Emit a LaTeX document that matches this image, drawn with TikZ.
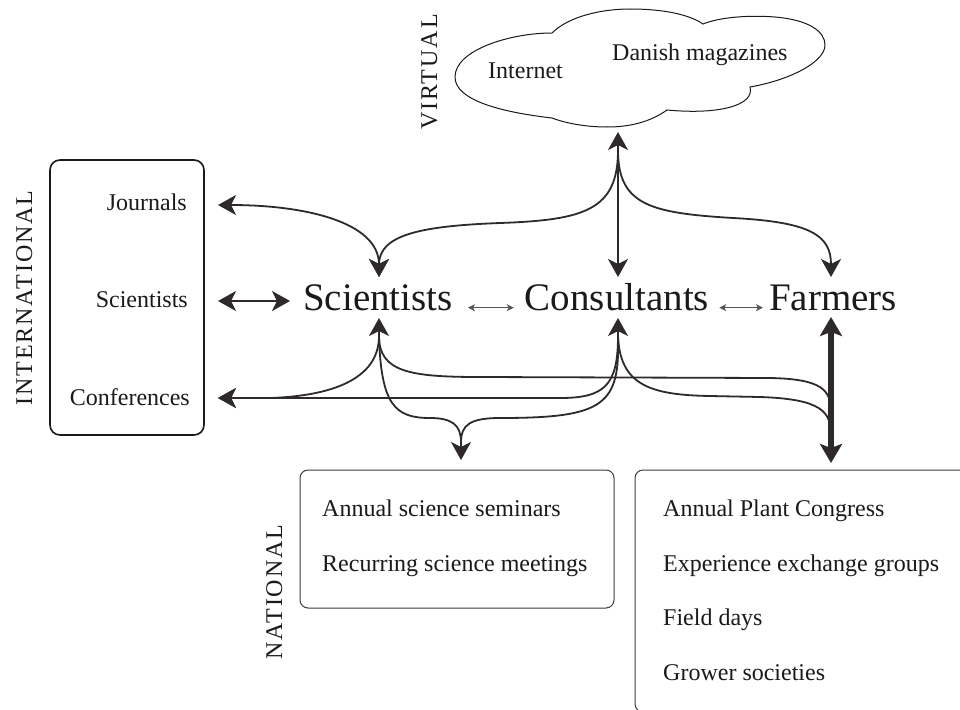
\documentclass[tikz,border=0pt]{standalone}
\usepackage{fontspec}
\setmainfont{Liberation Serif}
\usetikzlibrary{arrows.meta}
\definecolor{lc}{HTML}{2E2A2B}
\definecolor{bc}{HTML}{3C3C3C}
\definecolor{tc}{HTML}{1A1A1A}
\definecolor{thin}{HTML}{555555}
\begin{document}
\begin{tikzpicture}[x=1pt,y=-1pt,
  >={Stealth[length=18pt,width=20pt,inset=5pt]},
  ln/.style={draw=lc, line width=1.8pt},
  thinarr/.style={draw=thin, line width=1pt, {Stealth[length=7pt,width=7pt,inset=2pt]}-{Stealth[length=7pt,width=7pt,inset=2pt]}},
  bigtxt/.style={font=\fontsize{39}{44}\selectfont, inner sep=0pt, text=tc},
  smtxt/.style={font=\fontsize{24}{28}\selectfont, inner sep=0pt, text=tc},
  vlab/.style={font=\fontsize{24}{28}\selectfont\addfontfeature{LetterSpace=8}, rotate=90, anchor=base, inner sep=0pt, text=tc},
  boxline/.style={draw=bc, line width=1pt, rounded corners=8pt}]
\useasboundingbox (0,0) rectangle (960,709);
\fill[white] (0,0) rectangle (960,709);

% ---------- cloud ----------
\draw[draw=tc, line width=1pt, fill=white]
  (552,118) .. controls (500,112) and (455,100) .. (455,77)
  .. controls (455,50) and (510,33) .. (552,33)
  .. controls (568,17) and (600,9) .. (630,9)
  .. controls (665,9) and (690,15) .. (703,24)
  .. controls (720,17) and (750,15) .. (775,17)
  .. controls (810,20) and (825,32) .. (825,45)
  .. controls (825,62) and (790,80) .. (750,87)
  .. controls (755,105) and (720,115) .. (667,110)
  .. controls (650,122) and (630,127) .. (607,127)
  .. controls (585,127) and (565,123) .. (552,118) -- cycle;
\node[smtxt, anchor=base west] (internet) at (488,78) {Internet};
\node[smtxt, anchor=base west] (danish) at (612,60) {Danish magazines};
\coordinate (cloudB) at (618,132);

% ---------- vertical labels ----------
\node[vlab] (virtual) at (437,72) {VIRTUAL};
\node[vlab] (intl) at (32,298) {INTERNATIONAL};
\node[vlab] (natl) at (282,592) {NATIONAL};

% ---------- boxes ----------
\draw[draw=tc, line width=1.6pt, rounded corners=10pt] (50,160) rectangle (204,435);
\node[smtxt, anchor=base east] (journ) at (187,210) {Journals};
\node[smtxt, anchor=base east] (isci) at (188,307) {Scientists};
\node[smtxt, anchor=base east] (conf) at (190,405) {Conferences};

\draw[boxline] (300,470) rectangle (614,608);
\node[smtxt, anchor=base west] (ass) at (322,516) {Annual science seminars};
\node[smtxt, anchor=base west] (rsm) at (322,571) {Recurring science meetings};

\begin{scope}
\clip (0,0) rectangle (960,709);
\draw[boxline] (635,470) rectangle (985,712);
\end{scope}
\node[smtxt, anchor=base west] (apc) at (663,516) {Annual Plant Congress};
\node[smtxt, anchor=base west] (eeg) at (663,571) {Experience exchange groups};
\node[smtxt, anchor=base west] (fd) at (663,625) {Field days};
\node[smtxt, anchor=base west] (gs) at (663,680) {Grower societies};

% ---------- main actors ----------
\node[bigtxt, anchor=base] (sci) at (378,310) {Scientists};
\node[bigtxt, anchor=base] (con) at (617,310) {Consultants};
\node[bigtxt, anchor=base] (far) at (833,310) {Farmers};

\draw[thinarr] ([xshift=15pt]sci.mid east) -- ([xshift=-11pt]con.mid west);
\draw[thinarr] ([xshift=10pt]con.mid east) -- ([xshift=-6pt]far.mid west);

% ---------- anchor coordinates ----------
\coordinate (sciT) at (379,277);
\coordinate (sciB) at (379,318);
\coordinate (sciH) at (379,330);
\coordinate (conT) at (618,277);
\coordinate (conB) at (618,318);
\coordinate (conH) at (618,330);
\coordinate (farT) at (831,277);
\coordinate (farTop) at (831,317);
\coordinate (farBot) at (831,463);
\coordinate (journT) at (218,205);
\coordinate (confT) at (218,398);
\coordinate (isciT) at (218,301);
\coordinate (isciE) at (290,301);
\coordinate (natT) at (461,460);
\coordinate (hub) at (618,150);

% ---------- connectors: top ----------
\draw[ln, <->] (cloudB) -- (conT);
\draw[ln, ->] (hub) .. controls (618,210) and (585,220) .. (500,223)
  .. controls (420,226) and (379,235) .. (sciT);
\draw[ln, ->] (hub) .. controls (618,205) and (650,213) .. (733,218)
  .. controls (810,222) and (831,235) .. (farT);
\draw[ln, <->] (journT) .. controls (305,205) and (379,222) .. (sciT);
\draw[ln, <->] (isciT) -- (isciE);

% ---------- connectors: bottom ----------
\draw[ln, <->] (sciB) -- (379,336) .. controls (379,380) and (330,396) .. (270,398) -- (confT);
\draw[ln, <->] (conB) -- (618,336) .. controls (618,385) and (605,398) .. (560,398) -- (confT);
\draw[ln] (sciH) -- (379,336) .. controls (379,372) and (410,377) .. (480,377)
  -- (770,378) .. controls (822,379) and (831,390) .. (831,412);
\draw[ln] (conH) -- (618,336) .. controls (620,385) and (650,395) .. (710,396)
  -- (760,397) .. controls (822,399) and (831,412) .. (831,435);
\draw[ln] (sciH) -- (379,336) .. controls (381,405) and (395,418) .. (430,418)
  .. controls (452,418) and (461,425) .. (461,442);
\draw[ln] (conH) -- (618,336) .. controls (620,405) and (605,418) .. (500,418)
  .. controls (470,418) and (461,425) .. (461,442);
\draw[ln, ->] (461,438) -- (natT);
\draw[draw=lc, line width=6.5pt, {Stealth[length=19pt,width=22pt,inset=4pt]}-{Stealth[length=19pt,width=22pt,inset=4pt]}] (farTop) -- (farBot);
\end{tikzpicture}
\end{document}
